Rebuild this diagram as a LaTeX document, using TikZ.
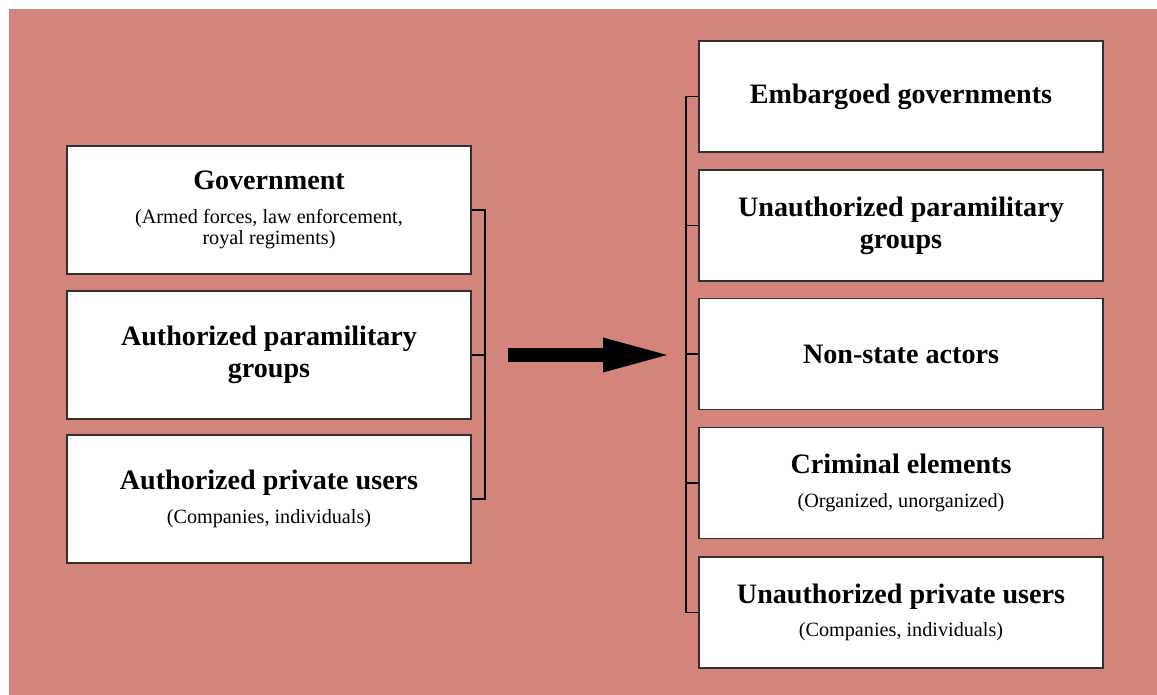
\documentclass[tikz,border=0pt]{standalone}
\usepackage{fontspec}
\setmainfont{Liberation Serif}
\usepackage{tikz}
\usetikzlibrary{arrows.meta,calc,positioning}
\definecolor{PanelRose}{HTML}{D4857B}
\definecolor{BoxEdge}{HTML}{303030}
\newcommand{\hd}[1]{{\bfseries #1}}
\newcommand{\sub}[1]{{\fontsize{11.5}{12.5}\selectfont #1}}

\begin{document}
\begin{tikzpicture}[
  x=0.2mm,y=-0.2mm,
  font=\fontsize{16}{18.2}\selectfont,
  leftbox/.style={draw=BoxEdge,line width=0.3mm,fill=white,minimum width=80.8mm,minimum height=25.6mm,align=center,inner sep=0pt},
  rightbox/.style={leftbox,minimum height=22.2mm},
  bracket/.style={draw=black,line width=0.35mm},
  bigarrow/.style={-{Triangle[length=12.8mm,width=7mm,line width=0pt]},draw=black,line width=2.8mm}
]
\useasboundingbox (0,0) rectangle (1157,695);
\fill[PanelRose] (9,9) rectangle (1157,695);

% authorized side
\node[leftbox] (gov) at (269,210) {\hd{Government}\\[1pt]\sub{(Armed forces, law enforcement,}\\[-5.7pt]\sub{royal regiments)}};
\node[leftbox] (authPara) at (269,355) {\hd{Authorized paramilitary}\\\hd{groups}};
\node[leftbox] (authPriv) at (269,499) {\hd{Authorized private users}\\[1pt]\sub{(Companies, individuals)}};

% unauthorized side
\node[rightbox] (embargo) at (901,96.5) {\hd{Embargoed governments}};
\node[rightbox] (unPara) at (901,225.5) {\hd{Unauthorized paramilitary}\\\hd{groups}};
\node[rightbox] (nonState) at (901,354) {\hd{Non-state actors}};
\node[rightbox] (criminal) at (901,483) {\hd{Criminal elements}\\[1pt]\sub{(Organized, unorganized)}};
\node[rightbox] (unPriv) at (901,612.5) {\hd{Unauthorized private users}\\[1pt]\sub{(Companies, individuals)}};

% brackets
\draw[bracket] (gov.east) -- ++(13,0) |- (authPriv.east);
\draw[bracket] (authPara.east) -- ++(13,0);
\draw[bracket] (embargo.west) -- ++(-12,0) |- (unPriv.west);
\draw[bracket] (unPara.west) -- ++(-12,0);
\draw[bracket] (nonState.west) -- ++(-12,0);
\draw[bracket] (criminal.west) -- ++(-12,0);

\coordinate (arrowFrom) at (508,355);
\coordinate (arrowTo) at (667,355);
\draw[bigarrow] (arrowFrom) -- (arrowTo);
\end{tikzpicture}
\end{document}
